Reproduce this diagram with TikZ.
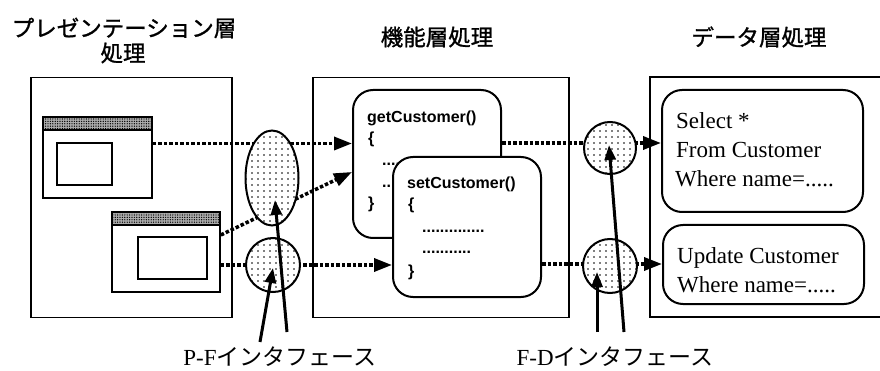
\documentclass[tikz,border=0pt]{standalone}
\usepackage{fontspec}
\setmainfont{Liberation Serif}
\newfontfamily\jp{Noto Sans CJK JP}
\newfontfamily\jpb[FakeBold=1.2]{Noto Sans CJK JP}
\newfontfamily\codefont{Liberation Sans}
\usetikzlibrary{shapes.geometric,arrows.meta,patterns.meta}
\begin{document}
\begin{tikzpicture}[x=1pt,y=-1pt,
  panel/.style={draw,line width=1.6pt,inner sep=0pt},
  win/.style={draw,line width=1.6pt,fill=white,inner sep=0pt},
  winbar/.style={draw,line width=1.6pt,fill=gray!65,inner sep=0pt,
     postaction={pattern={Dots[distance=2.4pt,radius=0.7pt]}}},
  iface/.style={draw,line width=2pt,fill=white,inner sep=0pt,
     postaction={pattern={Dots[distance=6pt,radius=0.85pt]}}},
  func/.style={draw,line width=2pt,fill=white,rounded corners=20pt,inner sep=0pt},
  conn/.style={line width=3.5pt,dash pattern=on 3.5pt off 2pt,
     -{Triangle[length=18pt,width=13pt]}},
  pointer/.style={line width=3pt,-{Triangle[length=15pt,width=11pt]}},
  title/.style={font=\jpb\fontsize{22.5}{27}\selectfont,inner sep=0pt},
  lbl/.style={font=\fontsize{23}{27}\selectfont,inner sep=0pt,anchor=base},
  code/.style={font=\codefont\bfseries\fontsize{16}{19}\selectfont,inner sep=0pt,anchor=base west},
  sql/.style={font=\fontsize{23}{27}\selectfont,inner sep=0pt,anchor=base west}]
\path[use as bounding box,clip] (0,0) rectangle (880,371);

% titles
\node[title] (t1a) at (124,28) {プレゼンテーション層};
\node[title] (t1b) at (123,53) {処理};
\node[title] (t2) at (437,37) {機能層処理};
\node[title] (t3) at (759,37) {データ層処理};

% panels
\node[panel,minimum width=201,minimum height=240] (pp) at (131.5,197.5) {};
\node[panel,minimum width=256,minimum height=240] (fp) at (441,197.5) {};
\node[panel,minimum width=260,minimum height=240] (dp) at (780,197) {};

% windows
\node[win,minimum width=109,minimum height=81] (w1) at (97.5,157.5) {};
\node[winbar,minimum width=109,minimum height=13,anchor=north] (b1) at (w1.north) {};
\node[win,minimum width=55,minimum height=42] (w1i) at (84.5,164) {};
\node[win,minimum width=108,minimum height=80] (w2) at (166,252) {};
\node[winbar,minimum width=108,minimum height=13,anchor=north] (b2) at (w2.north) {};
\node[win,minimum width=69,minimum height=42] (w2i) at (172.5,258) {};

% function boxes
\node[func,minimum width=148,minimum height=148] (gc) at (427,164) {};
\node[code] (gct) at (367,123) {getCustomer()};
\node[code] (gco) at (368,144) {\{};
\node[code] (gcd1) at (382,166) {....};
\node[code] (gcd2) at (382,188) {...};
\node[code] (gcc) at (368,209) {\}};
\node[func,minimum width=148,minimum height=140] (sc) at (467,227) {};
\node[code] (sct) at (407,189) {setCustomer()};
\node[code] (sco) at (408,209.5) {\{};
\node[code] (scd1) at (422,233) {..............};
\node[code] (scd2) at (422,254) {...........};
\node[code] (scc) at (408,276.5) {\}};

% SQL boxes
\node[func,minimum width=201,minimum height=122] (sel) at (762.5,151) {};
\node[sql] (sel1) at (676,128.5) {Select *};
\node[sql] (sel2) at (676,158) {From Customer};
\node[sql] (sel3) at (675,187) {Where name=.....};
\node[func,minimum width=201,minimum height=79] (upd) at (763.5,264.5) {};
\node[sql] (upd1) at (677,263) {Update Customer};
\node[sql] (upd2) at (677,292) {Where name=.....};

% dotted connectors
\coordinate (a1) at ([yshift=14pt]w1.east);
\draw[conn] (a1) -- (a1 -| gc.west);
\draw[conn] ([yshift=17pt]w2.east) -- ([yshift=-8pt]gc.west);
\coordinate (a3) at ([yshift=-13pt]w2.east);
\draw[conn] (a3) -- (a3 -| sc.west);
\coordinate (a4) at ([yshift=21pt]gc.east);
\draw[conn] (a4) -- (a4 -| sel.west);
\coordinate (a5) at ([yshift=-37pt]sc.east);
\draw[conn] (a5) -- (a5 -| upd.west);

% interfaces
\node[iface,ellipse,minimum width=53,minimum height=95] (pfe) at (272,178) {};
\node[iface,circle,minimum size=54] (pfc) at (273,265) {};
\node[iface,circle,minimum size=52] (fd1) at (610,148) {};
\node[iface,circle,minimum size=54] (fd2) at (610,266) {};

% labels and pointers
\node[lbl] (pfl) at (280,365) {P-F{\jp インタフェース}};
\node[lbl] (fdl) at (615,365) {F-D{\jp インタフェース}};
\coordinate (pfa) at (260,342);
\coordinate (pfb) at (287,332);
\coordinate (fda) at (597,332);
\coordinate (fdb) at (624,332);
\draw[pointer] (pfa) -- ([yshift=-3pt]pfc.center);
\draw[pointer] (pfb) -- ([shift={(3pt,-22pt)}]pfe.center);
\draw[pointer] (fda) -- ([shift={(-13pt,-6pt)}]fd2.center);
\draw[pointer] (fdb) -- ([shift={(-1pt,3pt)}]fd1.center);
\end{tikzpicture}
\end{document}
